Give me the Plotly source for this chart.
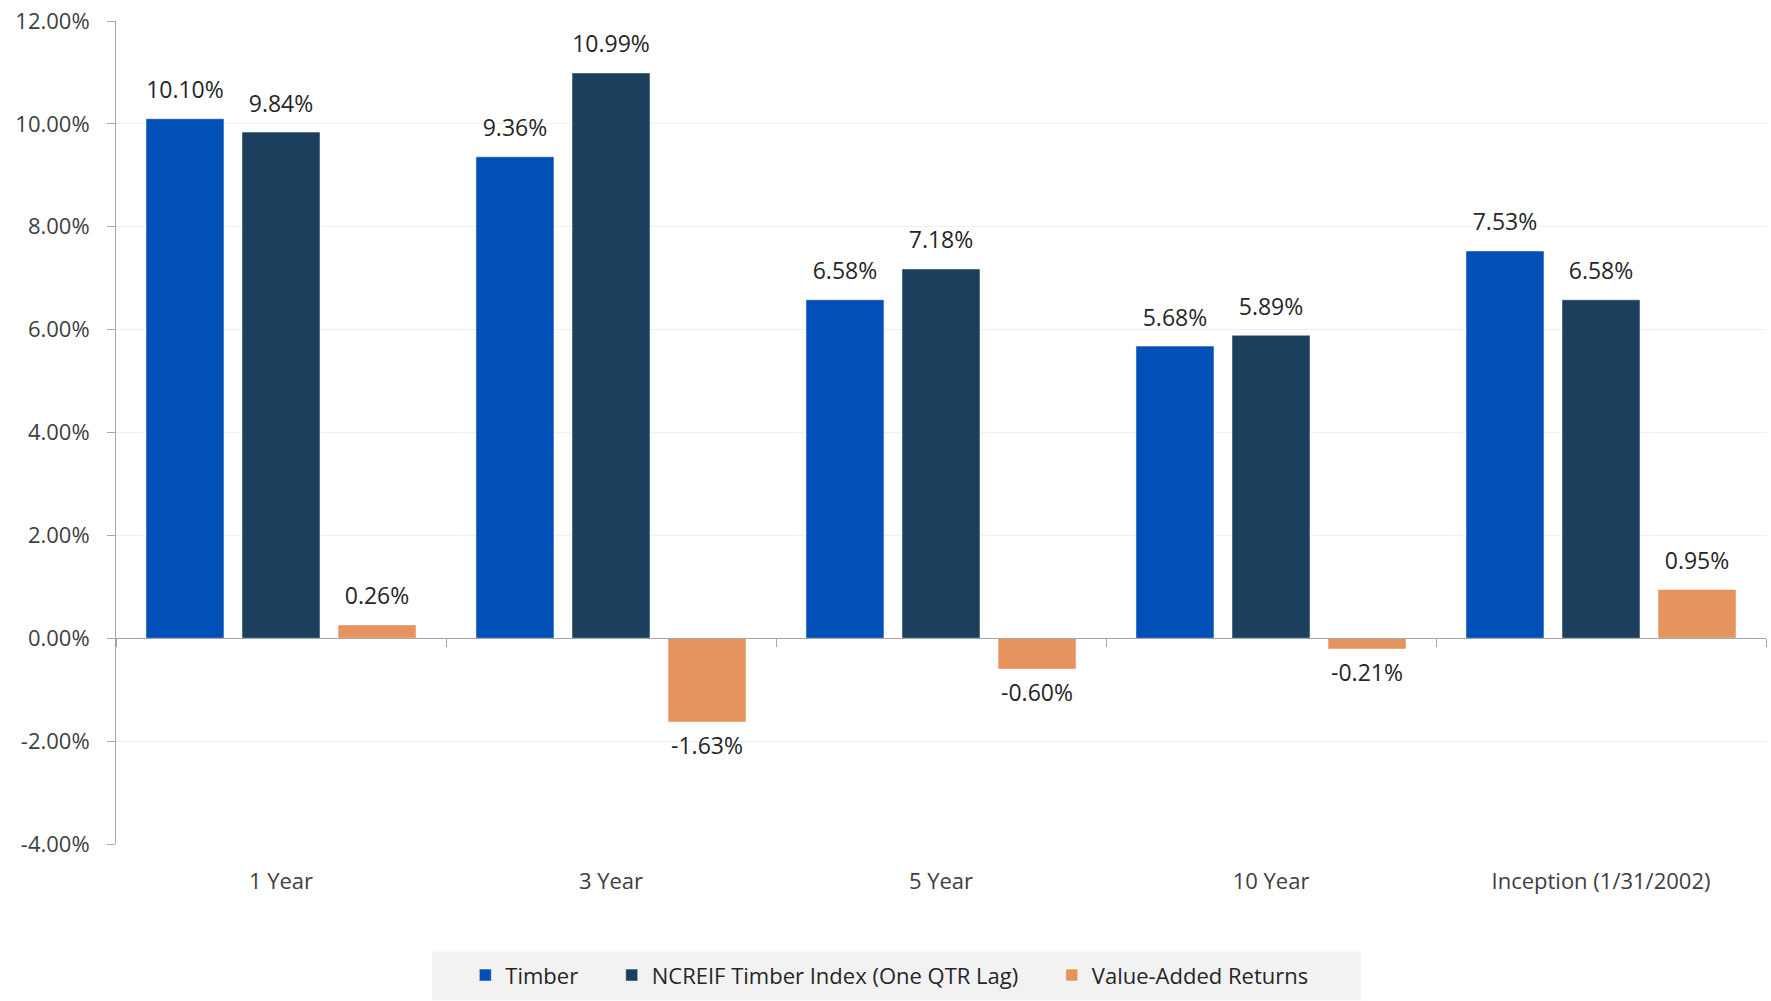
import plotly.graph_objects as go

categories = ["1 Year", "3 Year", "5 Year", "10 Year", "Inception (1/31/2002)"]
timber = [10.10, 9.36, 6.58, 5.68, 7.53]
ncreif = [9.84, 10.99, 7.18, 5.89, 6.58]
value_added = [0.26, -1.63, -0.60, -0.21, 0.95]
y_ticks = [-4, -2, 0, 2, 4, 6, 8, 10, 12]

series = [
    ("Timber", timber, "#0050b8"),
    ("NCREIF Timber Index (One QTR Lag)", ncreif, "#1c3f5e"),
    ("Value-Added Returns", value_added, "#e6945f"),
]

FONT = "Open Sans"
GAP = 0.127
NBSP = "\u00a0"

fig = go.Figure()
for i, (name, vals, color) in enumerate(series):
    pad = NBSP * 5 if i < len(series) - 1 else ""
    fig.add_trace(go.Bar(
        x=categories, y=vals, name=name + pad, marker_color=color,
        hoverinfo="skip",
    ))
# value labels, grouped the same way as the bars
for name, vals, color in series:
    fig.add_trace(go.Scatter(
        x=categories, y=vals, mode="markers+text",
        marker=dict(size=22, opacity=0),
        text=[f"{v:.2f}%" for v in vals],
        textposition=["top center" if v >= 0 else "bottom center" for v in vals],
        textfont=dict(size=23, color="#262626", family=FONT),
        cliponaxis=False, showlegend=False, hoverinfo="skip",
    ))

fig.update_layout(
    barmode="group",
    bargap=GAP,
    bargroupgap=0.1875,
    scattermode="group",
    scattergap=GAP,
    template="plotly_white",
    plot_bgcolor="white",
    paper_bgcolor="white",
    width=1771, height=1001,
    margin=dict(t=18, b=149, l=116, r=5),
    font=dict(family=FONT, size=22, color="#404040"),
    legend=dict(
        orientation="h", x=0.2117, xanchor="left", y=-0.1595, yanchor="middle",
        bgcolor="rgba(0,0,0,0)", font=dict(size=22, color="#262626"),
        traceorder="normal",
    ),
    shapes=[dict(
        type="rect", xref="paper", yref="paper",
        x0=0.1915, x1=0.7545, y0=-0.1307, y1=-0.19,
        fillcolor="#f2f2f2", line_width=0, layer="below",
    )],
    xaxis=dict(
        type="category", anchor="free", position=0.25,
        showline=True, linecolor="#a6a6a6", linewidth=1,
        ticks="outside", tickson="boundaries", ticklen=8, tickcolor="#a6a6a6",
        ticklabelstandoff=223, showgrid=False, zeroline=False,
        tickfont=dict(size=22, color="#404040"),
    ),
    yaxis=dict(
        range=[-4, 12], tickvals=y_ticks,
        ticktext=[f"{v:.2f}%" for v in y_ticks],
        showline=True, linecolor="#a6a6a6", linewidth=1,
        ticks="outside", ticklen=8, tickcolor="#a6a6a6",
        gridcolor="#efefef", zeroline=False, ticklabelstandoff=13,
        tickfont=dict(size=22, color="#404040"),
    ),
)

fig.write_html(
    "out.html",
    config={"displayModeBar": False},
    post_script="document.body.style.margin='0';",
)
